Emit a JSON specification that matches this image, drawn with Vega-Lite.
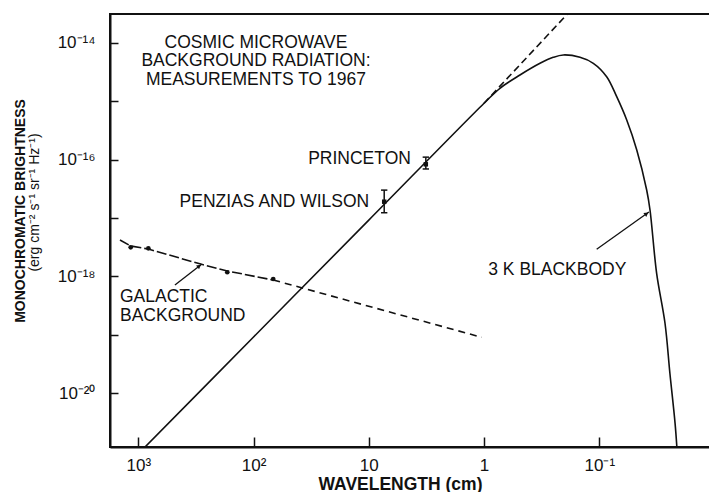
{
  "$schema": "https://vega.github.io/schema/vega-lite/v6.json",
  "autosize": {"type": "none"},
  "padding": {"left": 110, "top": 14, "right": 0, "bottom": 45},
  "width": 600,
  "height": 433,
  "background": "white",
  "config": {
    "view": {"stroke": "#111", "strokeWidth": 2},
    "font": "Liberation Sans"
  },
  "title": {
    "text": "MONOCHROMATIC BRIGHTNESS",
    "orient": "left",
    "anchor": "middle",
    "font": "Liberation Sans",
    "fontSize": 14,
    "fontWeight": "bold",
    "color": "#111",
    "offset": 0,
    "dx": 19.5
  },
  "datasets": {
    "bb": [
      {"lam": 1000, "b": 9.2e-22},
      {"lam": 100, "b": 9.2e-20},
      {"lam": 10, "b": 9.2e-18},
      {"lam": 1, "b": 9.2e-16},
      {"lam": 0.728, "b": 1.66e-15},
      {"lam": 0.488, "b": 2.8e-15},
      {"lam": 0.327, "b": 4.44e-15},
      {"lam": 0.251, "b": 5.62e-15},
      {"lam": 0.205, "b": 6.17e-15},
      {"lam": 0.147, "b": 5.62e-15},
      {"lam": 0.1127, "b": 4.44e-15},
      {"lam": 0.0863, "b": 2.62e-15},
      {"lam": 0.0706, "b": 1.19e-15},
      {"lam": 0.0578, "b": 4.75e-16},
      {"lam": 0.0473, "b": 1.46e-16},
      {"lam": 0.0388, "b": 3.01e-17},
      {"lam": 0.0363, "b": 1.37e-17},
      {"lam": 0.0318, "b": 1.13e-18},
      {"lam": 0.0269, "b": 1.58e-19},
      {"lam": 0.0244, "b": 2.2e-20},
      {"lam": 0.022, "b": 3.06e-21},
      {"lam": 0.0211, "b": 1.0e-21}
    ],
    "rj": [
      {"lam": 1, "b": 9.2e-16},
      {"lam": 0.157, "b": 4.59e-14}
    ],
    "gal1": [
      {"lam": 1442, "b": 4.2e-18},
      {"lam": 1164, "b": 3.32e-18},
      {"lam": 818, "b": 2.94e-18},
      {"lam": 282, "b": 1.61e-18},
      {"lam": 169, "b": 1.24e-18},
      {"lam": 67.5, "b": 8.69e-19}
    ],
    "gal2": [
      {"lam": 67.5, "b": 8.69e-19},
      {"lam": 14.6, "b": 3.79e-19},
      {"lam": 1.048, "b": 9.08e-20}
    ],
    "galpts": [
      {"lam": 1164, "b": 3.15e-18},
      {"lam": 818, "b": 3.03e-18},
      {"lam": 169, "b": 1.18e-18},
      {"lam": 67.5, "b": 9.04e-19}
    ],
    "meas": [
      {"name": "PENZIAS AND WILSON", "lam": 7.35, "b": 1.9e-17, "lo": 1.23e-17, "hi": 3.0e-17},
      {"name": "PRINCETON", "lam": 3.2, "b": 8.3e-17, "lo": 6.9e-17, "hi": 1.1e-16}
    ],
    "arrows": [
      {"lam": 481, "b": 7.13e-19, "lam2": 282, "b2": 1.61e-18},
      {"lam": 0.1054, "b": 2.91e-18, "lam2": 0.0371, "b2": 1.27e-17}
    ],
    "headGal": [{"lam": 296, "b": 1.5e-18}],
    "headBB": [{"lam": 0.0389, "b": 1.18e-17}],
    "annCenter": [
      {"text": "COSMIC MICROWAVE\nBACKGROUND RADIATION:\nMEASUREMENTS TO 1967", "lam": 95.3, "b": 9.88e-15}
    ],
    "annRight": [
      {"text": "PRINCETON", "lam": 4.31, "b": 1.01e-16},
      {"text": "PENZIAS AND WILSON", "lam": 9.91, "b": 1.88e-17}
    ],
    "annLeft": [
      {"text": "GALACTIC\nBACKGROUND", "lam": 1442, "b": 4.36e-19},
      {"text": "3 K BLACKBODY", "lam": 0.919, "b": 1.29e-18}
    ]
  },
  "encoding": {
    "x": {
      "field": "lam",
      "type": "quantitative",
      "scale": {"type": "log", "domain": [0.01095, 1760], "reverse": true, "nice": false},
      "axis": {
        "values": [1000, 100, 10, 1, 0.1],
        "labelExpr": "datum.value >= 999 ? '10³' : datum.value >= 99 ? '10²' : datum.value >= 9 ? '10' : datum.value >= 0.9 ? '1' : '10⁻¹'",
        "grid": false,
        "domain": true,
        "domainColor": "#111",
        "domainWidth": 2,
        "tickSize": -10,
        "tickWidth": 1.5,
        "tickColor": "#111",
        "labelFont": "Liberation Sans",
        "labelFontSize": 17,
        "labelColor": "#111",
        "labelPadding": 20,
        "labelFlush": false,
        "labelOverlap": false,
        "title": "WAVELENGTH (cm)",
        "titleFont": "Liberation Sans",
        "titleFontSize": 17.5,
        "titleFontWeight": "bold",
        "titleColor": "#111",
        "titleX": 290,
        "titleY": 28,
        "titleBaseline": "top",
        "titleAlign": "center"
      }
    },
    "y": {
      "field": "b",
      "type": "quantitative",
      "scale": {"type": "log", "domain": [1.205e-21, 3.097e-14], "nice": false},
      "axis": {
        "values": [1e-14, 1e-15, 1e-16, 1e-17, 1e-18, 1e-19, 1e-20],
        "labelExpr": "datum.value > 5e-15 ? '10⁻¹⁴' : (datum.value > 5e-17 && datum.value < 5e-16) ? '10⁻¹⁶' : (datum.value > 5e-19 && datum.value < 5e-18) ? '10⁻¹⁸' : (datum.value > 5e-21 && datum.value < 5e-20) ? '10⁻²⁰' : ''",
        "grid": false,
        "domain": true,
        "domainColor": "#111",
        "domainWidth": 2,
        "tickSize": -8,
        "tickWidth": 1.5,
        "tickColor": "#111",
        "labelFont": "Liberation Sans",
        "labelFontSize": 17,
        "labelColor": "#111",
        "labelPadding": 23,
        "labelFlush": false,
        "labelOverlap": false,
        "title": "(erg cm⁻² s⁻¹ sr⁻¹ Hz⁻¹)",
        "titleFont": "Liberation Sans",
        "titleFontSize": 14,
        "titleFontWeight": "normal",
        "titleColor": "#111",
        "titleAngle": 270,
        "titleX": -75.5,
        "titleY": 188,
        "titleBaseline": "middle",
        "titleAlign": "center"
      }
    }
  },
  "layer": [
    {
      "data": {"name": "bb"},
      "mark": {"type": "line", "color": "#111", "strokeWidth": 1.6, "interpolate": "catmull-rom", "clip": true}
    },
    {
      "data": {"name": "rj"},
      "mark": {"type": "line", "color": "#111", "strokeWidth": 1.6, "strokeDash": [7, 4], "clip": true}
    },
    {
      "data": {"name": "gal1"},
      "mark": {"type": "line", "color": "#111", "strokeWidth": 1.6, "strokeDash": [10, 3]}
    },
    {
      "data": {"name": "gal2"},
      "mark": {"type": "line", "color": "#111", "strokeWidth": 1.6, "strokeDash": [7, 5]}
    },
    {
      "data": {"name": "galpts"},
      "mark": {"type": "point", "filled": true, "color": "#111", "size": 22, "opacity": 1}
    },
    {
      "data": {"name": "meas"},
      "mark": {"type": "rule", "color": "#111", "strokeWidth": 1.5},
      "encoding": {
        "y": {"field": "lo", "type": "quantitative"},
        "y2": {"field": "hi"}
      }
    },
    {
      "data": {"name": "meas"},
      "mark": {"type": "point", "shape": "stroke", "color": "#111", "size": 40, "strokeWidth": 1.5, "opacity": 1},
      "encoding": {"y": {"field": "lo", "type": "quantitative"}}
    },
    {
      "data": {"name": "meas"},
      "mark": {"type": "point", "shape": "stroke", "color": "#111", "size": 40, "strokeWidth": 1.5, "opacity": 1},
      "encoding": {"y": {"field": "hi", "type": "quantitative"}}
    },
    {
      "data": {"name": "meas"},
      "mark": {"type": "point", "shape": "square", "filled": true, "color": "#111", "size": 20, "opacity": 1}
    },
    {
      "data": {"name": "arrows"},
      "mark": {"type": "rule", "color": "#111", "strokeWidth": 1.3},
      "encoding": {
        "x2": {"field": "lam2"},
        "y2": {"field": "b2"}
      }
    },
    {
      "data": {"name": "headGal"},
      "mark": {"type": "point", "shape": "triangle-up", "filled": true, "color": "#111", "size": 24, "angle": 52, "opacity": 1}
    },
    {
      "data": {"name": "headBB"},
      "mark": {"type": "point", "shape": "triangle-up", "filled": true, "color": "#111", "size": 24, "angle": 54, "opacity": 1}
    },
    {
      "data": {"name": "annCenter"},
      "mark": {"type": "text", "align": "center", "baseline": "middle", "lineBreak": "\n", "lineHeight": 18.5, "font": "Liberation Sans", "fontSize": 17.5, "color": "#111"},
      "encoding": {"text": {"field": "text"}}
    },
    {
      "data": {"name": "annRight"},
      "mark": {"type": "text", "align": "right", "baseline": "middle", "font": "Liberation Sans", "fontSize": 17.5, "color": "#111"},
      "encoding": {"text": {"field": "text"}}
    },
    {
      "data": {"name": "annLeft"},
      "mark": {"type": "text", "align": "left", "baseline": "middle", "lineBreak": "\n", "lineHeight": 18.5, "font": "Liberation Sans", "fontSize": 17.5, "color": "#111"},
      "encoding": {"text": {"field": "text"}}
    }
  ]
}
